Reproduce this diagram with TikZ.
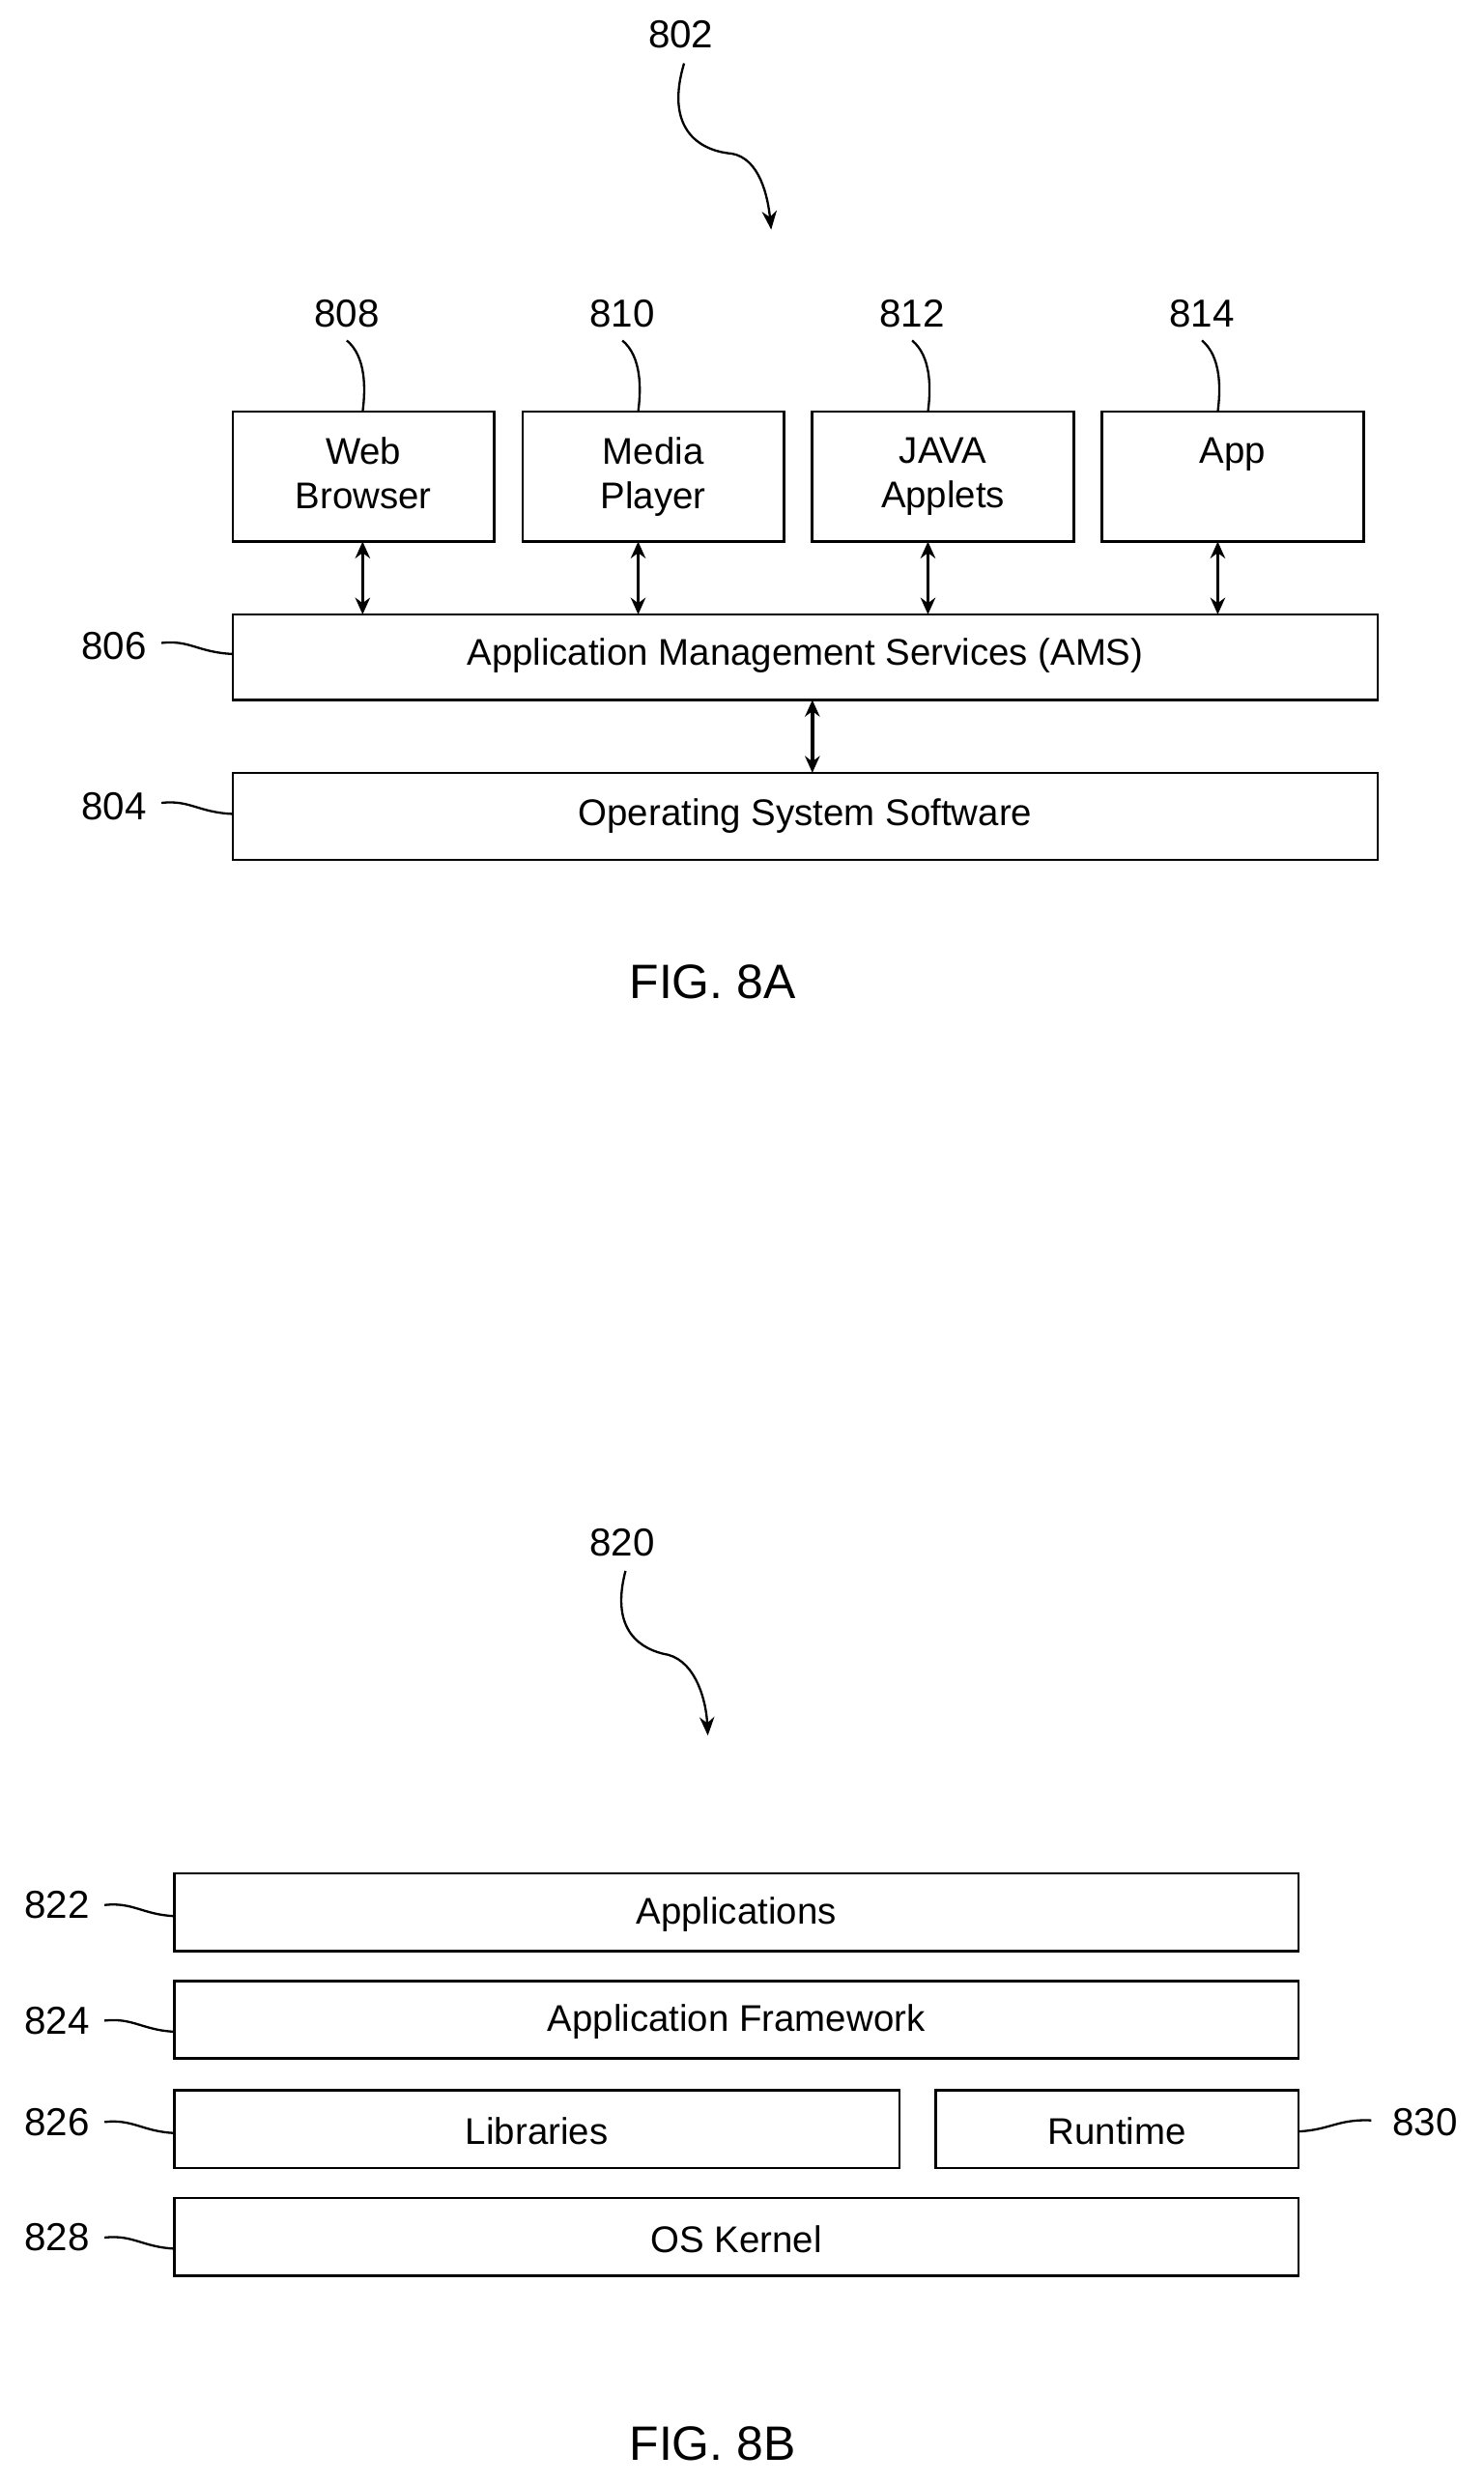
\documentclass[tikz,border=0pt]{standalone}
\usepackage{fontspec}
\setmainfont{Liberation Sans}
\usetikzlibrary{arrows.meta}
\tikzset{
  box/.style={draw, line width=1.4pt, inner sep=0pt},
  lbl/.style={font=\fontsize{20}{24}\selectfont},
  num/.style={font=\fontsize{21}{24}\selectfont},
  lead/.style={line width=1.2pt},
  dbl/.style={line width=1.8pt, {Stealth[length=9pt,width=8pt]}-{Stealth[length=9pt,width=8pt]}},
  fig/.style={font=\fontsize{26}{30}\selectfont}
}
\begin{document}
\begin{tikzpicture}[x=0.03cm, y=-0.03cm]
  \useasboundingbox (0,0) rectangle (937,1568);
  % FIG. 8A
  \draw[box]
    (147,260) rectangle (312,342)
    (330,260) rectangle (495,342)
    (513,260) rectangle (678,342)
    (696,260) rectangle (861,342)
    (147,388) rectangle (870,442)
    (147,488) rectangle (870,543);
  \node[lbl, align=center, anchor=north] (t808) at (229.5,272) {Web\\Browser};
  \node[lbl, align=center, anchor=north] (t810) at (412.5,272) {Media\\Player};
  \node[lbl, align=center, anchor=north] (t812) at (595.5,272) {JAVA\\Applets};
  \node[lbl, align=center, anchor=north] (t814) at (778.5,272) {App};
  \node[lbl] (t806) at (508.5,414) {Application Management Services (AMS)};
  \node[lbl] (t804) at (508.5,515) {Operating System Software};
  \coordinate (a1) at (229,342); \coordinate (m1) at (229,388);
  \coordinate (a2) at (403,342); \coordinate (m2) at (403,388);
  \coordinate (a3) at (586,342); \coordinate (m3) at (586,388);
  \coordinate (a4) at (769,342); \coordinate (m4) at (769,388);
  \coordinate (m5) at (513,442); \coordinate (o5) at (513,488);
  \foreach \i in {1,...,4} \draw[dbl] (a\i) -- (m\i);
  \draw[dbl] (m5) -- (o5);
  \node[num] (n802) at (430,22) {802};
  \coordinate (h802) at (487,145);
  \draw[lead, -{Stealth[length=10pt,width=8pt]}] (432,40) .. controls (420,80) and (440,95) .. (462,97) .. controls (480,100) and (485,125) .. (h802);
  \foreach \n/\x in {808/219, 810/393, 812/576, 814/759} {
    \node[num] (n\n) at (\x,198) {\n};
    \draw[lead] (\x,215) .. controls (\x+12,225) and (\x+12,245) .. (\x+10,260);
  }
  \node[num] (n806) at (72,408) {806};
  \node[num] (n804) at (72,509) {804};
  \draw[lead] (102,406) .. controls (120,404) and (125,412) .. (147,413);
  \draw[lead] (102,507) .. controls (120,505) and (125,513) .. (147,514);
  \node[fig] (f8a) at (450,620) {FIG. 8A};
  % FIG. 8B
  \draw[box]
    (110,1183) rectangle (820,1232)
    (110,1251) rectangle (820,1300)
    (110,1320) rectangle (568,1369)
    (591,1320) rectangle (820,1369)
    (110,1388) rectangle (820,1437);
  \node[lbl] (t822) at (465,1209) {Applications};
  \node[lbl] (t824) at (465,1277) {Application Framework};
  \node[lbl] (t826) at (339,1346) {Libraries};
  \node[lbl] (t830) at (705.5,1346) {Runtime};
  \node[lbl] (t828) at (465,1414) {OS Kernel};
  \node[num] (n820) at (393,974) {820};
  \draw[lead, -{Stealth[length=10pt,width=8pt]}] (395,992) .. controls (385,1030) and (405,1042) .. (422,1045) .. controls (440,1050) and (446,1075) .. (447,1096);
  \foreach \n/\y in {822/1203, 824/1276, 826/1340, 828/1413} {
    \node[num] (n\n) at (36,\y) {\n};
    \draw[lead] (66,\y) .. controls (84,\y-2) and (90,\y+6) .. (110,\y+7);
  }
  \node[num] (n830) at (900,1340) {830};
  \draw[lead] (820,1346) .. controls (840,1345) and (845,1338) .. (866,1339);
  \node[fig] (f8b) at (450,1543) {FIG. 8B};
\end{tikzpicture}
\end{document}
